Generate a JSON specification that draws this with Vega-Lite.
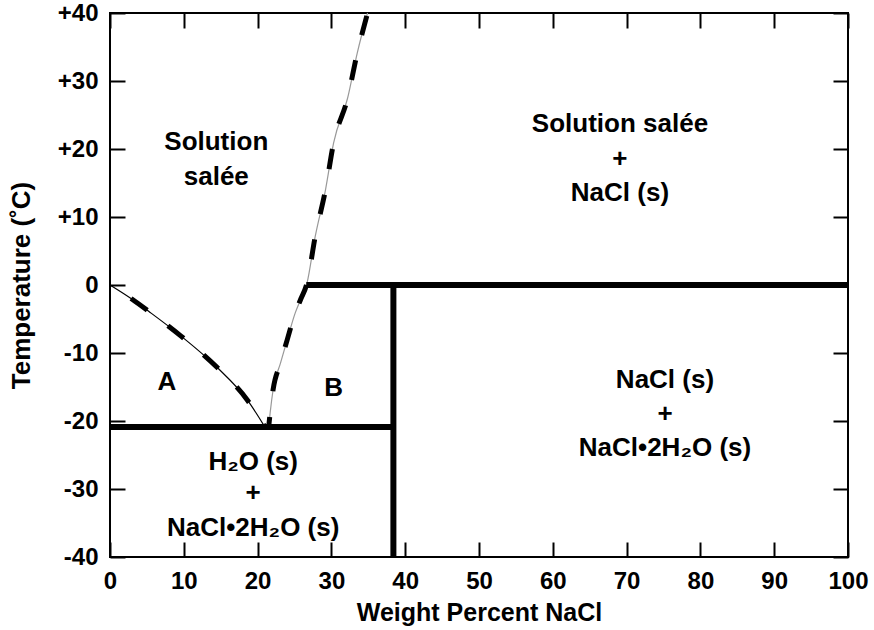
{
  "$schema": "https://vega.github.io/schema/vega-lite/v6.json",
  "width": 738,
  "height": 544,
  "autosize": "none",
  "padding": {"left": 110, "top": 13, "right": 26, "bottom": 73},
  "background": "white",
  "config": {
    "view": {"stroke": "black", "strokeWidth": 2},
    "axis": {
      "labelFont": "Liberation Sans",
      "labelFontWeight": "bold",
      "labelFontSize": 24,
      "labelColor": "black",
      "titleFont": "Liberation Sans",
      "titleFontWeight": "bold",
      "titleFontSize": 25,
      "titleColor": "black",
      "tickColor": "black",
      "tickWidth": 2,
      "tickSize": -15,
      "domain": false,
      "grid": false,
      "labelFlush": false,
      "labelOverlap": false
    }
  },
  "resolve": {"axis": {"x": "independent", "y": "independent"}},
  "datasets": {
    "ice": [
      {"pct": 0, "temp": 0},
      {"pct": 3, "temp": -2.1},
      {"pct": 5.4, "temp": -4.0},
      {"pct": 9.5, "temp": -7.4},
      {"pct": 14.5, "temp": -12.1},
      {"pct": 18.6, "temp": -16.9},
      {"pct": 21.0, "temp": -20.9}
    ],
    "salt": [
      {"pct": 21.5, "temp": -20.9},
      {"pct": 21.7, "temp": -18.8},
      {"pct": 22.1, "temp": -15.4},
      {"pct": 23.1, "temp": -11.5},
      {"pct": 24.0, "temp": -8.1},
      {"pct": 25.1, "temp": -4.1},
      {"pct": 25.8, "temp": -2.2},
      {"pct": 26.7, "temp": 0.3},
      {"pct": 27.8, "temp": 7.1},
      {"pct": 29.2, "temp": 14.0},
      {"pct": 30.3, "temp": 20.9},
      {"pct": 32.2, "temp": 27.5},
      {"pct": 33.5, "temp": 34.1},
      {"pct": 34.9, "temp": 40}
    ],
    "boundaries": [
      {"x1": 0, "x2": 38.4, "y1": -20.9, "y2": -20.9},
      {"x1": 26.6, "x2": 100, "y1": 0, "y2": 0},
      {"x1": 38.4, "x2": 38.4, "y1": -40, "y2": 0}
    ],
    "labels": [
      {"label": "Solution", "x": 14.4, "y": 21.0},
      {"label": "salée", "x": 14.4, "y": 15.9},
      {"label": "Solution salée", "x": 69.1, "y": 23.7},
      {"label": "+", "x": 69.1, "y": 18.6},
      {"label": "NaCl (s)", "x": 69.1, "y": 13.6},
      {"label": "A", "x": 7.7, "y": -14.3},
      {"label": "B", "x": 30.3, "y": -15.1},
      {"label": "H₂O (s)", "x": 19.4, "y": -26.0},
      {"label": "+", "x": 19.4, "y": -30.6},
      {"label": "NaCl•2H₂O (s)", "x": 19.4, "y": -35.7},
      {"label": "NaCl (s)", "x": 75.2, "y": -14.0},
      {"label": "+", "x": 75.2, "y": -19.0},
      {"label": "NaCl•2H₂O (s)", "x": 75.2, "y": -24.0}
    ]
  },
  "layer": [
    {
      "data": {"name": "ice"},
      "mark": {"type": "line", "color": "black", "strokeWidth": 1.2, "interpolate": "monotone"},
      "encoding": {
        "x": {
          "field": "pct", "type": "quantitative",
          "scale": {"domain": [0, 100], "nice": false, "zero": false},
          "axis": {"orient": "bottom", "values": [0, 10, 20, 30, 40, 50, 60, 70, 80, 90, 100], "labelPadding": 27, "title": "Weight Percent NaCl", "titlePadding": 7}
        },
        "y": {
          "field": "temp", "type": "quantitative",
          "scale": {"domain": [-40, 40], "nice": false, "zero": false},
          "axis": {"orient": "left", "values": [-40, -30, -20, -10, 0, 10, 20, 30, 40], "labelPadding": 27, "labelExpr": "datum.value > 0 ? '+' + datum.value : '' + datum.value", "title": "Temperature (˚C)", "titlePadding": 23, "titleFontSize": 26}
        }
      }
    },
    {
      "data": {"name": "salt"},
      "mark": {"type": "line", "color": "#999999", "strokeWidth": 1.2, "interpolate": "monotone"},
      "encoding": {
        "x": {"field": "pct", "type": "quantitative", "axis": null},
        "y": {"field": "temp", "type": "quantitative", "axis": null}
      }
    },
    {
      "data": {"name": "ice"},
      "mark": {"type": "line", "color": "black", "strokeWidth": 5, "strokeDash": [20, 26], "strokeDashOffset": 21, "interpolate": "monotone"},
      "encoding": {
        "x": {"field": "pct", "type": "quantitative", "axis": null},
        "y": {"field": "temp", "type": "quantitative", "axis": null}
      }
    },
    {
      "data": {"name": "salt"},
      "mark": {"type": "line", "color": "black", "strokeWidth": 5, "strokeDash": [20, 26], "strokeDashOffset": 10, "interpolate": "monotone"},
      "encoding": {
        "x": {"field": "pct", "type": "quantitative", "axis": null},
        "y": {"field": "temp", "type": "quantitative", "axis": null}
      }
    },
    {
      "data": {"name": "boundaries"},
      "mark": {"type": "rule", "color": "black", "strokeWidth": 6},
      "encoding": {
        "x": {
          "field": "x1", "type": "quantitative",
          "axis": {"orient": "top", "values": [0, 10, 20, 30, 40, 50, 60, 70, 80, 90, 100], "labels": false, "title": null}
        },
        "x2": {"field": "x2"},
        "y": {
          "field": "y1", "type": "quantitative",
          "axis": {"orient": "right", "values": [-40, -30, -20, -10, 0, 10, 20, 30, 40], "labels": false, "title": null}
        },
        "y2": {"field": "y2"}
      }
    },
    {
      "data": {"name": "labels"},
      "mark": {"type": "text", "font": "Liberation Sans", "fontWeight": "bold", "fontSize": 26, "color": "black", "align": "center", "baseline": "middle"},
      "encoding": {
        "x": {"field": "x", "type": "quantitative", "axis": null},
        "y": {"field": "y", "type": "quantitative", "axis": null},
        "text": {"field": "label"}
      }
    }
  ]
}
